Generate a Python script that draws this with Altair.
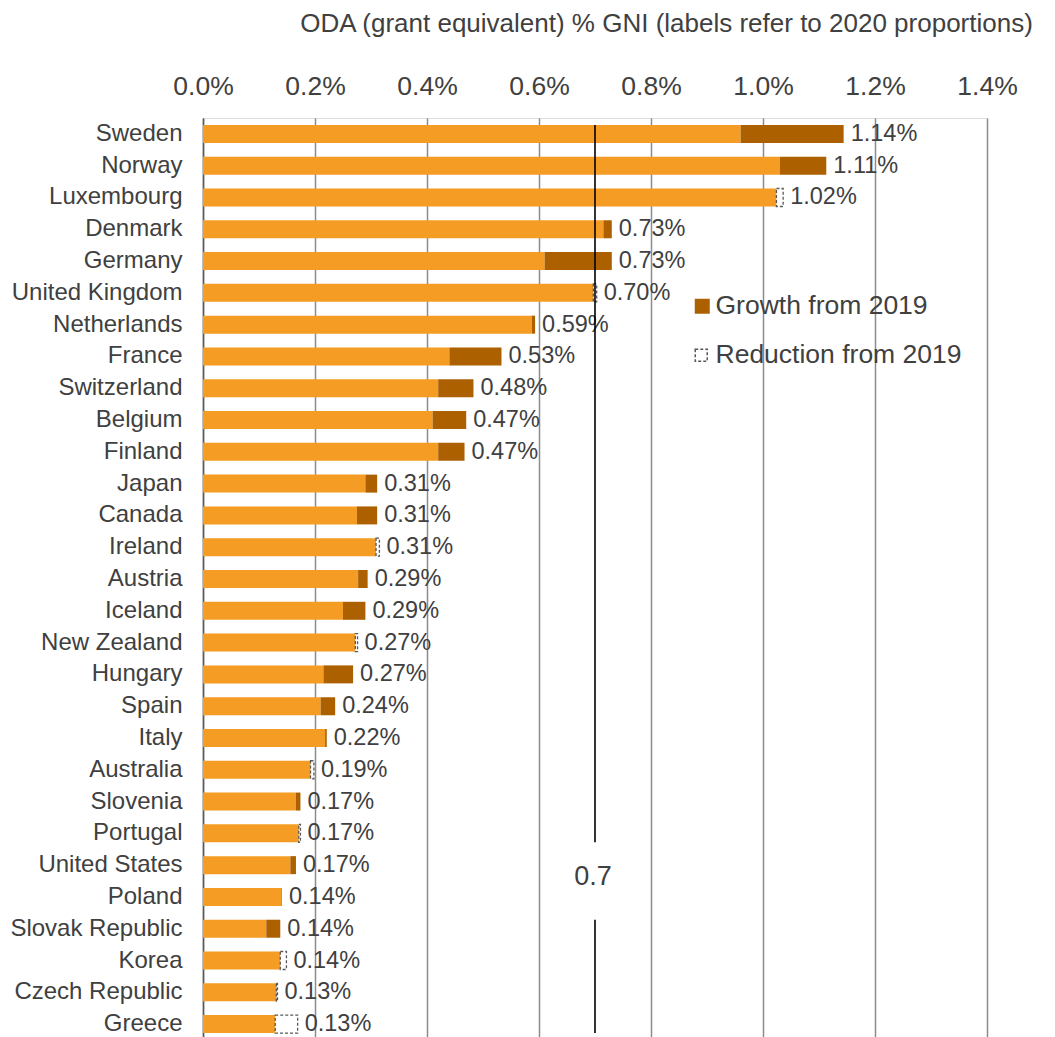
import altair as alt
import pandas as pd

countries = ["Sweden", "Norway", "Luxembourg", "Denmark", "Germany", "United Kingdom",
             "Netherlands", "France", "Switzerland", "Belgium", "Finland", "Japan",
             "Canada", "Ireland", "Austria", "Iceland", "New Zealand", "Hungary",
             "Spain", "Italy", "Australia", "Slovenia", "Portugal", "United States",
             "Poland", "Slovak Republic", "Korea", "Czech Republic", "Greece"]
oda_2019 = [0.96, 1.03, 1.036, 0.715, 0.61, 0.703, 0.587, 0.44, 0.42, 0.41, 0.42,
            0.29, 0.275, 0.315, 0.277, 0.25, 0.276, 0.215, 0.21, 0.218, 0.198,
            0.166, 0.174, 0.156, 0.14, 0.113, 0.149, 0.133, 0.169]
oda_2020 = [1.144, 1.113, 1.024, 0.73, 0.73, 0.697, 0.593, 0.533, 0.483, 0.47, 0.467,
            0.311, 0.311, 0.309, 0.294, 0.29, 0.272, 0.268, 0.236, 0.221, 0.192,
            0.174, 0.171, 0.166, 0.141, 0.138, 0.138, 0.131, 0.129]
x_ticks = [0.0, 0.2, 0.4, 0.6, 0.8, 1.0, 1.2, 1.4]
target = 0.7
TITLE = "ODA (grant equivalent) % GNI (labels refer to 2020 proportions)"

df = pd.DataFrame({"country": countries, "v19": oda_2019, "v20": oda_2020})
df["base"] = df[["v19", "v20"]].min(axis=1)
df["end"] = df[["v19", "v20"]].max(axis=1)
df["label"] = [f"{v:.2f}%" for v in df["v20"]]
df["g"] = "Growth from 2019"
df["r"] = "Reduction from 2019"

FONT = "Liberation Sans"
TXT = "#404040"

yscale = alt.Scale(domain=countries, paddingInner=0.434, paddingOuter=0.217)
yaxis = alt.Axis(title=None, labelFontSize=24, labelColor=TXT, labelFont=FONT,
                 labelPadding=21, ticks=False, tickSize=0, domainColor="#595959",
                 domainWidth=1.5, grid=False, labelLimit=400)
xscale = alt.Scale(domain=[0, 1.4], nice=False, zero=True)
xaxis = alt.Axis(orient="top", values=x_ticks,
                 labelExpr="format(datum.value, '.1f') + '%'",
                 labelFontSize=26.5, labelColor=TXT, labelFont=FONT, labelPadding=18,
                 labelFlush=False, labelOverlap=False,
                 ticks=False, tickSize=0, domain=False, grid=True,
                 gridColor="#8c8c8c", gridWidth=1.5,
                 title=TITLE, titleFontSize=26, titleFontWeight="normal",
                 titleColor=TXT, titleFont=FONT, titleX=463, titleY=-95,
                 titleAlign="center", titleBaseline="middle", titleAngle=0)

Y = alt.Y("country:N", scale=yscale, axis=yaxis, sort=countries)

base = alt.Chart(df)

bars = base.mark_bar(color="#F49C23").encode(
    x=alt.X("base:Q", scale=xscale, axis=xaxis),
    x2=alt.X2("zero:Q"),
    y=Y,
).transform_calculate(zero="0")

growth = base.transform_filter("datum.v20 > datum.v19").mark_bar().encode(
    x=alt.X("v19:Q", scale=xscale, axis=xaxis),
    x2="v20:Q",
    y=Y,
    color=alt.Color("g:N", scale=alt.Scale(domain=["Growth from 2019"], range=["#AC6000"]),
                    legend=alt.Legend(title=None, orient="none", legendX=486, legendY=175,
                                      symbolType="square", symbolSize=225,
                                      symbolStrokeWidth=0, labelFontSize=26.5,
                                      labelColor=TXT, labelFont=FONT, labelOffset=0,
                                      labelLimit=400)),
)

reduction = base.transform_filter("datum.v19 > datum.v20").mark_bar(
    filled=False, strokeDash=[3, 2], strokeWidth=1.3
).encode(
    x=alt.X("v20:Q", scale=xscale, axis=xaxis),
    x2="v19:Q",
    y=Y,
    stroke=alt.Stroke("r:N", scale=alt.Scale(domain=["Reduction from 2019"], range=["#595959"]),
                      legend=alt.Legend(title=None, orient="none", legendX=485, legendY=224,
                                        symbolType="square", symbolSize=144,
                                        symbolDash=[3, 2], symbolStrokeWidth=1.5,
                                        symbolFillColor="transparent",
                                        labelFontSize=26.5, labelColor=TXT, labelFont=FONT,
                                        labelOffset=1, labelLimit=400)),
)

labels = base.mark_text(align="left", baseline="middle", dx=7, fontSize=23.5,
                        font=FONT, color=TXT).encode(
    x=alt.X("end:Q", scale=xscale, axis=xaxis),
    y=Y,
    text="label:N",
)

rule_df = pd.DataFrame({"x": [target, target],
                        "y1": ["Sweden", "Slovak Republic"],
                        "y2": ["Portugal", "Greece"]})
rule = alt.Chart(rule_df).mark_rule(color="#000000", strokeWidth=1.6).encode(
    x=alt.X("x:Q", scale=xscale, axis=xaxis),
    y=alt.Y("y1:N", scale=yscale, axis=yaxis, bandPosition=0),
    y2=alt.Y2("y2:N", bandPosition=1),
)

tlabel_df = pd.DataFrame({"x": [target], "y": ["United States"], "t": ["0.7"]})
tlabel = alt.Chart(tlabel_df).mark_text(fontSize=27, font=FONT, color=TXT,
                                        align="center", baseline="middle",
                                        dx=-2, dy=3).encode(
    x=alt.X("x:Q", scale=xscale, axis=xaxis),
    y=alt.Y("y:N", scale=yscale, axis=yaxis, bandPosition=1),
    text="t:N",
)

chart = alt.layer(bars, growth, reduction, labels, rule, tlabel).properties(
    width=784, height=922,
    padding={"left": 195, "top": 110, "right": 60, "bottom": 0},
    autosize=alt.AutoSizeParams(type="none"),
).resolve_legend(color="independent", stroke="independent").configure_view(
    stroke=None
).configure(background="white")

chart.save("out.html", embed_options={"renderer": "svg", "actions": False})
